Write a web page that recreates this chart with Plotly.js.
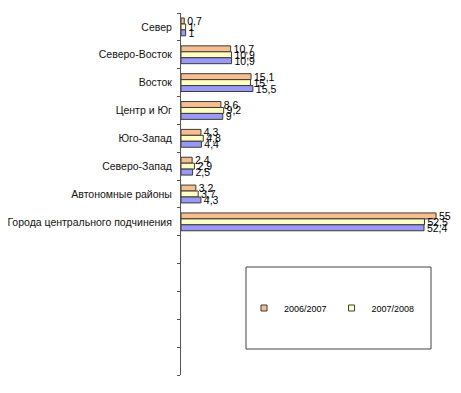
<!DOCTYPE html>
<html><head><meta charset="utf-8">
<script src="https://cdn.plot.ly/plotly-3.0.1.min.js"></script>
<style>body{margin:0;background:#fff}#c{width:461px;height:393px}</style>
</head><body><div id="c"></div>
<script>
var categories = ["Север","Северо-Восток","Восток","Центр и Юг","Юго-Запад","Северо-Запад","Автономные районы","Города центрального подчинения"];
var series1Name = "2006/2007";
var series2Name = "2007/2008";
var series3Name = "2008/2009";
var series1 = [0.7, 10.7, 15.1, 8.6, 4.3, 2.4, 3.2, 55];
var series2 = [1, 10.9, 15, 9.2, 4.8, 2.9, 3.7, 52.5];
var series3 = [1, 10.9, 15.5, 9, 4.4, 2.5, 4.3, 52.4];
var boundaries = [-0.5,0.5,1.5,2.5,3.5,4.5,5.5,6.5,7.5,8.5,9.5,10.5,11.5,12.5];

var FONT = 'Liberation Sans, Arial, sans-serif';
var C1 = '#F8BE8E', C2 = '#FFFFC4', C3 = '#9A9AF6';
function fmt(v){return ' ' + String(v).replace('.', ',');}
function mk(name, vals, color){
  return {type:'bar', orientation:'h', name:name, x:vals, y:categories,
    marker:{color:color, line:{color:'#3a3a3a', width:1}},
    text:vals.map(fmt), textposition:'outside', constraintext:'none', cliponaxis:false,
    textfont:{family:FONT, size:10.5, color:'#000'},
    showlegend:false, hoverinfo:'x'};
}
function leg(name, color){
  return {type:'scatter', mode:'markers', name:name, x:[null], y:[null],
    marker:{symbol:'square', size:6, color:color, line:{color:'#3a3a3a', width:1}},
    showlegend:true, hoverinfo:'skip'};
}
var data = [
  mk(series1Name, series1, C1),
  mk(series2Name, series2, C2),
  mk(series3Name, series3, C3),
  leg(series1Name, C1),
  leg(series2Name, C2),
  {type:'scatter', x:[], y:[], yaxis:'y2', showlegend:false, hoverinfo:'skip'}
];
var layout = {
  width:461, height:393,
  margin:{l:181, r:5, t:13, b:18},
  paper_bgcolor:'#fff', plot_bgcolor:'#fff',
  barmode:'group', bargap:0.36, bargroupgap:0,
  font:{family:FONT, size:10, color:'#000'},
  xaxis:{range:[0,59.3], showline:false, showgrid:false, zeroline:false, showticklabels:false, ticks:''},
  yaxis:{type:'category', range:[12.5,-0.5], showline:true, linecolor:'#555', linewidth:1,
    ticks:'', showgrid:false, zeroline:false, ticklabelstandoff:6,
    tickfont:{family:FONT, size:10.5, color:'#111'}},
  yaxis2:{overlaying:'y', side:'left', range:[12.5,-0.5], tickvals:boundaries, ticks:'outside',
    ticklen:3, tickcolor:'#555', showticklabels:false, showgrid:false, zeroline:false, showline:false},
  shapes:[{type:'rect', xref:'paper', yref:'paper',
    x0:(246-181)/275, x1:(431-181)/275, y0:(375-349)/362, y1:(375-267)/362,
    line:{color:'#444', width:1}, fillcolor:'rgba(0,0,0,0)'}],
  legend:{orientation:'h', x:(244-181)/275, xanchor:'left', y:(375-308)/362, yanchor:'middle',
    bgcolor:'rgba(0,0,0,0)', borderwidth:0, traceorder:'normal',
    font:{family:FONT, size:9, color:'#000'}, itemwidth:30}
};
Plotly.newPlot('c', data, layout, {displayModeBar:false, staticPlot:true});
</script></body></html>
